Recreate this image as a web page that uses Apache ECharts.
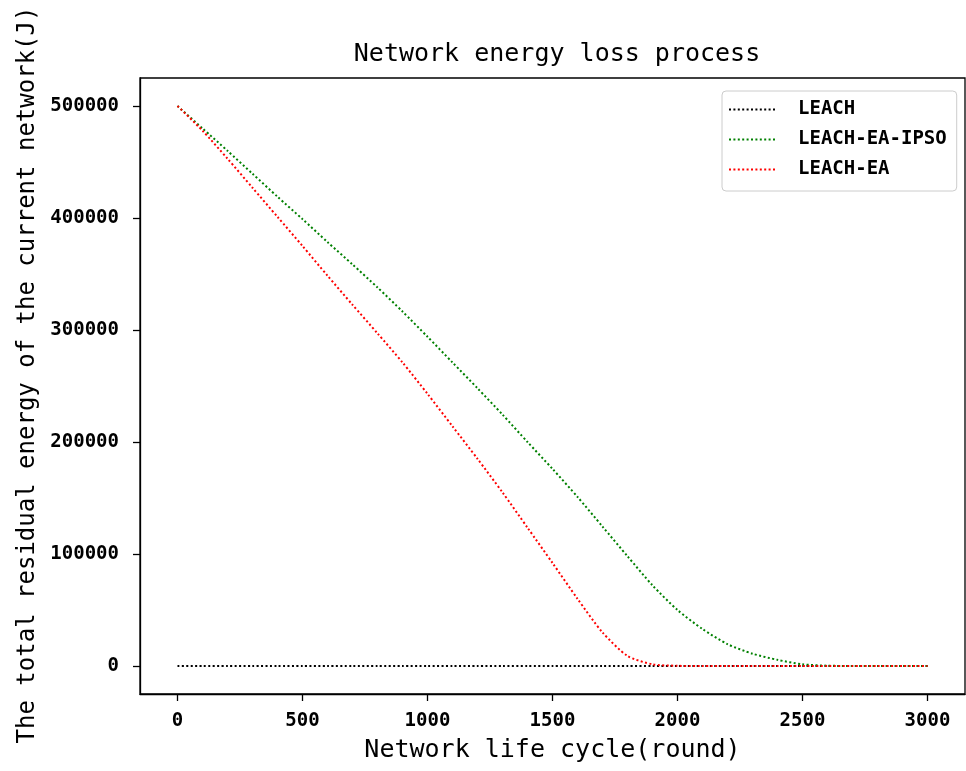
<!DOCTYPE html>
<html>
<head>
<meta charset="utf-8">
<script src="https://cdn.jsdelivr.net/npm/echarts@6/dist/echarts.min.js"></script>
<style>
html,body{margin:0;padding:0;background:#fff;}
#chart{width:966px;height:771px;}
</style>
</head>
<body>
<div id="chart"></div>
<script>
const rounds = [0,100,200,300,400,500,600,700,800,900,1000,1100,1200,1300,1400,1500,1600,1700,1800,1900,2000,2100,2200,2300,2400,2500,2600,2700,2800,2900,3000];
const leach = [0,0,0,0,0,0,0,0,0,0,0,0,0,0,0,0,0,0,0,0,0,0,0,0,0,0,0,0,0,0,0];
const leachEaIpso = [500000,480000,460000,439500,419000,399000,378500,358500,338000,316500,294000,271000,248000,224500,200000,176000,151000,124500,98000,72000,50000,33000,19500,11000,5500,1500,300,0,0,0,0];
const leachEa = [500000,478000,453000,427000,401000,375000,348500,322500,297000,271000,243000,214000,185000,155000,123500,92000,60000,30000,9000,1500,200,0,0,0,0,0,0,0,0,0,0];
const xTicks = [0,500,1000,1500,2000,2500,3000];
const yTicks = [0,100000,200000,300000,400000,500000];
const seriesNames = ['LEACH','LEACH-EA-IPSO','LEACH-EA'];
const seriesColors = ['#000000','#008000','#ff0000'];

const pairs = arr => rounds.map((r,i)=>[r, arr[i]]);
const dataSets = [leach, leachEaIpso, leachEa];

const chart = echarts.init(document.getElementById('chart'), null, {renderer:'canvas'});
const mono = '"DejaVu Sans Mono", monospace';
chart.setOption({
  backgroundColor:'#fff',
  animation:false,
  title:{
    text:'Network energy loss process',
    left:552, top:37, textAlign:'center',
    textStyle:{fontFamily:mono, fontSize:25, fontWeight:'normal', color:'#000'}
  },
  legend:{
    orient:'vertical',
    left:722, top:91,
    padding:[9,10,12,6],
    itemGap:11,
    itemWidth:47, itemHeight:14,
    borderColor:'#cccccc', borderWidth:1, borderRadius:4,
    backgroundColor:'#fff',
    itemStyle:{opacity:0},
    textStyle:{fontFamily:mono, fontSize:19, fontWeight:'bold', color:'#000', padding:[0,0,0,17]},
    data:seriesNames
  },
  grid:{left:140, right:1, top:78, bottom:77, show:true, borderColor:'#000', borderWidth:1.3, backgroundColor:'transparent'},
  xAxis:{
    type:'value', min:-150, max:3150,
    name:'Network life cycle(round)', nameLocation:'middle', nameGap:44,
    nameTextStyle:{fontFamily:mono, fontSize:25, color:'#000'},
    axisLine:{show:true, onZero:false, lineStyle:{color:'#000', width:1.3}},
    axisTick:{show:true, length:7, lineStyle:{color:'#000', width:1.3}, customValues:xTicks},
    axisLabel:{fontFamily:mono, fontSize:19, fontWeight:'bold', color:'#000', margin:18, customValues:xTicks, formatter:v=>String(v)},
    splitLine:{show:false}
  },
  yAxis:{
    type:'value', min:-25000, max:525000,
    name:'The total residual energy of the current network(J)', nameLocation:'middle', nameGap:99, nameRotate:90,
    nameTextStyle:{fontFamily:mono, fontSize:24, color:'#000', padding:[0,0,0,22]},
    axisLine:{show:true, onZero:false, lineStyle:{color:'#000', width:1.3}},
    axisTick:{show:true, length:7, lineStyle:{color:'#000', width:1.3}, customValues:yTicks},
    axisLabel:{fontFamily:mono, fontSize:19, fontWeight:'bold', color:'#000', margin:21, customValues:yTicks, formatter:v=>String(v)},
    splitLine:{show:false}
  },
  series: dataSets.map((d,i)=>({
    name:seriesNames[i], type:'line', data:pairs(d),
    symbol:'none', smooth:0.25,
    color:seriesColors[i],
    lineStyle:{color:seriesColors[i], width:2, type:[2,2.4]}
  }))
});
</script>
</body>
</html>
